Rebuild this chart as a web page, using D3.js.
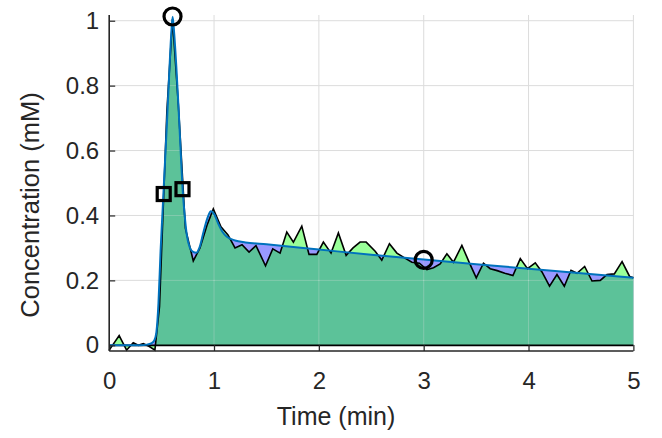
<!DOCTYPE html>
<html>
<head>
<meta charset="utf-8">
<script src="https://cdn.jsdelivr.net/npm/d3@7"></script>
<style>
  body { margin: 0; background: #fff; }
  svg { display: block; font-family: "Liberation Sans", Arial, sans-serif; }
</style>
</head>
<body>
<svg width="662" height="438"></svg>
<script>
// measured concentration (black, noisy)
var time = [0, 0.095, 0.166, 0.229, 0.277, 0.325, 0.379, 0.436, 0.48, 0.55, 0.604, 0.66, 0.727, 0.802, 0.866, 0.933, 0.993,
  1.066, 1.133, 1.2, 1.267, 1.334, 1.4, 1.491, 1.56, 1.63, 1.694, 1.757, 1.837, 1.906, 1.98, 2.043, 2.116, 2.186, 2.26,
  2.326, 2.393, 2.451, 2.537, 2.6, 2.673, 2.744, 2.813, 2.887, 2.959, 3.03, 3.093, 3.157, 3.221, 3.284, 3.364, 3.437,
  3.501, 3.57, 3.634, 3.701, 3.773, 3.851, 3.921, 3.99, 4.064, 4.128, 4.2, 4.271, 4.341, 4.405, 4.462, 4.535, 4.605,
  4.684, 4.748, 4.818, 4.892, 4.964, 5.0];
var conc = [-0.015, 0.03, -0.015, 0.008, 0, 0.005, -0.003, -0.015, 0.12, 0.72, 1.005, 0.74, 0.36, 0.26, 0.30, 0.37, 0.42,
  0.365, 0.34, 0.30, 0.31, 0.287, 0.307, 0.245, 0.297, 0.284, 0.349, 0.318, 0.367, 0.28, 0.28, 0.318, 0.284, 0.346, 0.277,
  0.30, 0.318, 0.318, 0.29, 0.262, 0.313, 0.284, 0.27, 0.256, 0.253, 0.233, 0.239, 0.251, 0.282, 0.256, 0.308, 0.253,
  0.208, 0.253, 0.236, 0.23, 0.222, 0.215, 0.267, 0.236, 0.254, 0.226, 0.182, 0.218, 0.182, 0.231, 0.222, 0.243, 0.198,
  0.2, 0.218, 0.22, 0.258, 0.212, 0.208];

// fitted curve (blue, smooth)
var fitTime = [0, 0.3, 0.36, 0.4, 0.43, 0.45, 0.47, 0.49, 0.51, 0.53, 0.55, 0.57, 0.59, 0.605, 0.62, 0.64, 0.66, 0.68,
  0.7, 0.72, 0.74, 0.77, 0.8, 0.83, 0.86, 0.9, 0.94, 0.97, 1.0, 1.04, 1.08, 1.12, 1.2, 1.3, 1.5, 2.0, 2.5, 3.0, 3.5,
  4.0, 4.5, 5.0];
var fitConc = [0, 0, 0.002, 0.006, 0.015, 0.04, 0.13, 0.29, 0.42, 0.55, 0.68, 0.82, 0.95, 1.012, 0.96, 0.86, 0.74, 0.61,
  0.483, 0.40, 0.34, 0.30, 0.288, 0.285, 0.30, 0.35, 0.395, 0.413, 0.405, 0.375, 0.35, 0.335, 0.323, 0.317, 0.311,
  0.295, 0.279, 0.264, 0.25, 0.236, 0.222, 0.208];

// markers
var peakMarks = [[0.604, 1.013], [3.0, 0.263]];
var halfMarks = [[0.52, 0.466], [0.699, 0.481]];

var xTicks = [0, 1, 2, 3, 4, 5];
var yTicks = [0, 0.2, 0.4, 0.6, 0.8, 1];

var data = d3.zip(time, conc);
var fit = d3.zip(fitTime, fitConc);

var svg = d3.select("svg");
var xScale = d3.scaleLinear().domain([0, 5]).range([109.2, 633.4]);
var yScale = d3.scaleLinear().domain([-0.0176, 1.0176]).range([351, 15]);

var ink = "#262626";
var gridColor = "#dcdcdc";

// grid under everything
var grid = svg.append("g");
grid.selectAll("line.gx").data(xTicks.slice(1)).enter().append("line")
  .attr("x1", function(d) { return xScale(d); }).attr("x2", function(d) { return xScale(d); })
  .attr("y1", yScale.range()[0]).attr("y2", yScale.range()[1])
  .attr("stroke", gridColor).attr("stroke-width", 1);
grid.selectAll("line.gy").data(yTicks.slice(1)).enter().append("line")
  .attr("y1", function(d) { return yScale(d); }).attr("y2", function(d) { return yScale(d); })
  .attr("x1", xScale.range()[0]).attr("x2", xScale.range()[1])
  .attr("stroke", gridColor).attr("stroke-width", 1);

var fitArea = d3.area().curve(d3.curveMonotoneX)
  .x(function(d) { return xScale(d[0]); })
  .y0(yScale(0))
  .y1(function(d) { return yScale(d[1]); });
var dataArea = d3.area()
  .x(function(d) { return xScale(d[0]); })
  .y0(yScale(0))
  .y1(function(d) { return yScale(d[1]); });

svg.append("path").attr("d", fitArea(fit)).attr("fill", "rgb(0,0,255)").attr("fill-opacity", 0.4);
svg.append("path").attr("d", dataArea(data)).attr("fill", "rgb(0,255,0)").attr("fill-opacity", 0.4);

// grid shows lighter through the filled part
var clip = svg.append("clipPath").attr("id", "fillclip");
clip.append("path").attr("d", fitArea(fit));
clip.append("path").attr("d", dataArea(data));
var grid2 = svg.append("g").attr("clip-path", "url(#fillclip)");
grid2.selectAll("line.gx").data(xTicks.slice(1)).enter().append("line")
  .attr("x1", function(d) { return xScale(d); }).attr("x2", function(d) { return xScale(d); })
  .attr("y1", yScale.range()[0]).attr("y2", yScale.range()[1])
  .attr("stroke", "#fff").attr("stroke-opacity", 0.3).attr("stroke-width", 1);
grid2.selectAll("line.gy").data(yTicks.slice(1)).enter().append("line")
  .attr("y1", function(d) { return yScale(d); }).attr("y2", function(d) { return yScale(d); })
  .attr("x1", xScale.range()[0]).attr("x2", xScale.range()[1])
  .attr("stroke", "#fff").attr("stroke-opacity", 0.3).attr("stroke-width", 1);

// baseline
svg.append("line")
  .attr("x1", xScale(0)).attr("x2", xScale(5))
  .attr("y1", yScale(0)).attr("y2", yScale(0))
  .attr("stroke", "#000").attr("stroke-width", 1.8);

var dataLine = d3.line()
  .x(function(d) { return xScale(d[0]); })
  .y(function(d) { return yScale(d[1]); });
var fitLine = d3.line().curve(d3.curveMonotoneX)
  .x(function(d) { return xScale(d[0]); })
  .y(function(d) { return yScale(d[1]); });

svg.append("path").attr("d", dataLine(data))
  .attr("fill", "none").attr("stroke", "#000").attr("stroke-width", 1.6).attr("stroke-linejoin", "miter");
svg.append("path").attr("d", fitLine(fit))
  .attr("fill", "none").attr("stroke", "#0072BD").attr("stroke-width", 2);

// axes
var xAxis = d3.axisBottom(xScale).tickValues(xTicks).tickSize(-6).tickPadding(21)
  .tickFormat(function(d) { return String(d); });
var yAxis = d3.axisLeft(yScale).tickValues(yTicks).tickSize(-6).tickPadding(10)
  .tickFormat(function(d) { return String(d); });

var gx = svg.append("g").attr("transform", "translate(0," + yScale.range()[0] + ")").call(xAxis);
var gy = svg.append("g").attr("transform", "translate(" + xScale.range()[0] + ",0)").call(yAxis);
[gx, gy].forEach(function(g) {
  g.select(".domain").attr("stroke", ink).attr("stroke-width", 1.6)
    .attr("d", g === gx ? "M" + xScale.range()[0] + ",0H" + xScale.range()[1]
                        : "M0," + yScale.range()[0] + "V" + yScale.range()[1]);
  g.selectAll(".tick line").attr("stroke", ink).attr("stroke-width", 1.2);
  g.selectAll(".tick text").attr("fill", ink).style("font-size", "24px")
    .style("font-family", "'Liberation Sans', Arial, sans-serif");
});

svg.append("text")
  .attr("x", 336).attr("y", 425)
  .attr("text-anchor", "middle").attr("fill", ink).style("font-size", "25px")
  .text("Time (min)");
svg.append("text")
  .attr("transform", "translate(39,205) rotate(-90)")
  .attr("text-anchor", "middle").attr("fill", ink).style("font-size", "25.5px")
  .text("Concentration (mM)");

// markers
svg.selectAll("circle.peak").data(peakMarks).enter().append("circle")
  .attr("class", "peak")
  .attr("cx", function(d) { return xScale(d[0]); })
  .attr("cy", function(d) { return yScale(d[1]); })
  .attr("r", 8.5)
  .attr("fill", "none").attr("stroke", "#000").attr("stroke-width", 3.2);
svg.selectAll("rect.half").data(halfMarks).enter().append("rect")
  .attr("class", "half")
  .attr("x", function(d) { return xScale(d[0]) - 6.5; })
  .attr("y", function(d) { return yScale(d[1]) - 6.5; })
  .attr("width", 13).attr("height", 13)
  .attr("fill", "none").attr("stroke", "#000").attr("stroke-width", 3.2);
</script>
</body>
</html>
